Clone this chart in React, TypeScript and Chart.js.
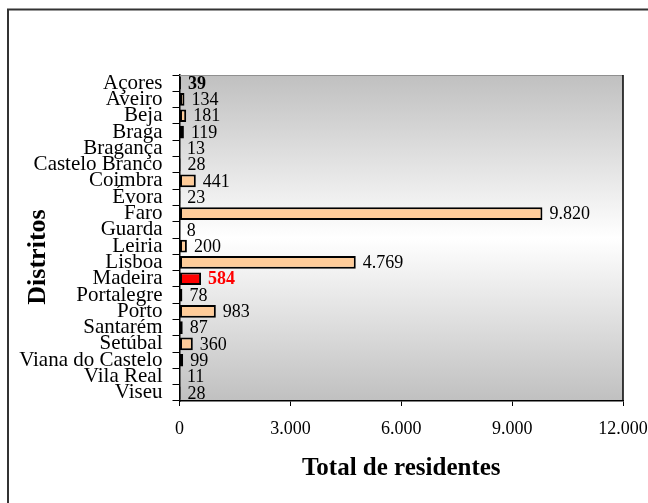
import React, { useEffect, useRef } from "react";
import { Chart, registerables } from "chart.js";

Chart.register(...registerables);

const districts = [
  "Açores", "Aveiro", "Beja", "Braga", "Bragança", "Castelo Branco", "Coimbra", "Évora",
  "Faro", "Guarda", "Leiria", "Lisboa", "Madeira", "Portalegre", "Porto", "Santarém",
  "Setúbal", "Viana do Castelo", "Vila Real", "Viseu",
];
const residents = [39, 134, 181, 119, 13, 28, 441, 23, 9820, 8, 200, 4769, 584, 78, 983, 87, 360, 99, 11, 28];
const highlighted = "Madeira";
const boldLabel = "Açores";
const xMin = 0;
const xMax = 12000;
const xStep = 3000;
const xTitle = "Total de residentes";
const yTitle = "Distritos";

const FONT = "'Liberation Serif', 'Times New Roman', serif";
const fmt = (n: number) => String(n).replace(/\B(?=(\d{3})+(?!\d))/g, ".");

const decorPlugin = {
  id: "decor",
  beforeDraw(chart: any) {
    const { ctx, chartArea: a, width, height } = chart;
    ctx.save();
    ctx.fillStyle = "#ffffff";
    ctx.fillRect(0, 0, width, height);
    const g = ctx.createLinearGradient(0, a.top, 0, a.bottom);
    g.addColorStop(0, "#c0c0c0");
    g.addColorStop(0.5, "#ffffff");
    g.addColorStop(1, "#c0c0c0");
    ctx.fillStyle = g;
    ctx.fillRect(a.left, a.top, a.right - a.left, a.bottom - a.top);
    // outer frame (left + top visible)
    ctx.strokeStyle = "#333333";
    ctx.lineWidth = 2;
    ctx.beginPath();
    ctx.moveTo(8, height);
    ctx.lineTo(8, 9.5);
    ctx.lineTo(width, 9.5);
    ctx.stroke();
    ctx.restore();
  },
  afterDraw(chart: any) {
    const { ctx, chartArea: a } = chart;
    ctx.save();
    ctx.lineWidth = 1;
    ctx.strokeStyle = "#909090";
    ctx.beginPath();
    ctx.moveTo(a.left, a.top + 0.5);
    ctx.lineTo(a.right, a.top + 0.5);
    ctx.stroke();
    ctx.strokeStyle = "#000000";
    ctx.lineWidth = 1.5;
    ctx.beginPath();
    ctx.moveTo(a.right, a.top);
    ctx.lineTo(a.right, a.bottom);
    ctx.stroke();
    // y axis title
    ctx.translate(38, (a.top + a.bottom) / 2 + 19);
    ctx.rotate(-Math.PI / 2);
    ctx.fillStyle = "#000";
    ctx.font = `bold 26px ${FONT}`;
    ctx.textAlign = "center";
    ctx.textBaseline = "middle";
    ctx.fillText(yTitle, 0, 0);
    ctx.restore();
  },
  afterDatasetsDraw(chart: any) {
    const { ctx } = chart;
    const meta = chart.getDatasetMeta(0);
    ctx.save();
    ctx.textAlign = "left";
    ctx.textBaseline = "middle";
    meta.data.forEach((el: any, i: number) => {
      const name = districts[i];
      const isHi = name === highlighted;
      const isBold = name === boldLabel || isHi;
      ctx.font = `${isBold ? "bold " : ""}18px ${FONT}`;
      ctx.fillStyle = isHi ? "#ff0000" : "#000000";
      ctx.fillText(fmt(residents[i]), el.x + 7, el.y + 1);
    });
    ctx.restore();
  },
};

export default function App() {
  const ref = useRef<HTMLCanvasElement>(null);
  useEffect(() => {
    if (!ref.current) return;
    const chart = new Chart(ref.current, {
      type: "bar",
      data: {
        labels: districts,
        datasets: [
          {
            data: residents,
            backgroundColor: districts.map((d) => (d === highlighted ? "#ff0000" : "#ffcc99")),
            borderColor: "#000000",
            borderWidth: 2,
            borderSkipped: false,
            categoryPercentage: 1,
            barPercentage: 0.78,
          },
        ],
      },
      options: {
        indexAxis: "y",
        animation: false,
        responsive: false,
        layout: { padding: { left: 0, top: 75, right: 25, bottom: 0 } },
        plugins: { legend: { display: false }, tooltip: { enabled: false } },
        scales: {
          y: {
            type: "category",
            afterFit: (s: any) => {
              s.width = 179.5;
              s.paddingTop = 0;
              s.paddingBottom = 0;
            },
            grid: {
              display: true,
              drawOnChartArea: false,
              drawTicks: true,
              tickLength: 7,
              color: "#000",
              offset: true,
            },
            border: { display: true, color: "#000", width: 1.5 },
            ticks: {
              autoSkip: false,
              padding: 10,
              color: "#000",
              font: { family: FONT, size: 21 },
            },
          },
          x: {
            type: "linear",
            min: xMin,
            max: xMax,
            afterFit: (s: any) => {
              s.height = 102;
              s.paddingRight = 0;
              s.paddingLeft = 0;
            },
            grid: {
              display: true,
              drawOnChartArea: false,
              drawTicks: true,
              tickLength: 5,
              color: "#000",
            },
            border: { display: true, color: "#000", width: 1.5 },
            ticks: {
              stepSize: xStep,
              maxRotation: 0,
              padding: 12,
              color: "#000",
              font: { family: FONT, size: 18 },
              callback: (v: any) => fmt(Number(v)),
            },
            title: {
              display: true,
              text: xTitle,
              color: "#000",
              font: { family: FONT, size: 25, weight: "bold" },
              padding: { top: 0, bottom: 19 },
            },
          },
        },
      },
      plugins: [decorPlugin],
    } as any);
    return () => chart.destroy();
  }, []);
  return (
    <div style={{ position: "fixed", left: 0, top: 0, width: 648, height: 503, overflow: "hidden" }}>
      <canvas ref={ref} width={648} height={503} style={{ display: "block" }} />
    </div>
  );
}
